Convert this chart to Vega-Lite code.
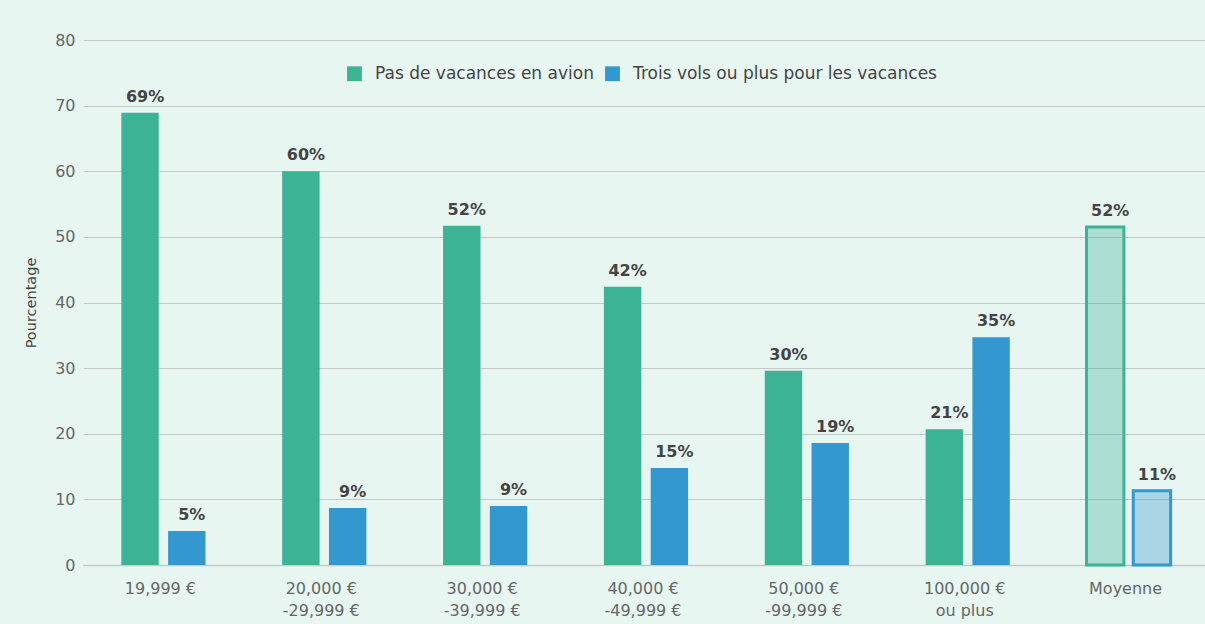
{
  "$schema": "https://vega.github.io/schema/vega-lite/v6.json",
  "autosize": "none",
  "width": 1126,
  "height": 525,
  "padding": {"left": 83, "top": 40, "right": 0, "bottom": 59},
  "background": "#e8f6f2",
  "config": {
    "font": "DejaVu Sans",
    "view": {"stroke": null},
    "axis": {"labelFont": "DejaVu Sans", "titleFont": "DejaVu Sans"},
    "legend": {"labelFont": "DejaVu Sans"}
  },
  "data": {
    "values": [
      {"cat": "19,999 €", "series": "Pas de vacances en avion", "value": 68.9, "label": "69%"},
      {"cat": "19,999 €", "series": "Trois vols ou plus pour les vacances", "value": 5.2, "label": "5%"},
      {"cat": "20,000 € -29,999 €", "series": "Pas de vacances en avion", "value": 60.0, "label": "60%"},
      {"cat": "20,000 € -29,999 €", "series": "Trois vols ou plus pour les vacances", "value": 8.7, "label": "9%"},
      {"cat": "30,000 € -39,999 €", "series": "Pas de vacances en avion", "value": 51.7, "label": "52%"},
      {"cat": "30,000 € -39,999 €", "series": "Trois vols ou plus pour les vacances", "value": 9.0, "label": "9%"},
      {"cat": "40,000 € -49,999 €", "series": "Pas de vacances en avion", "value": 42.4, "label": "42%"},
      {"cat": "40,000 € -49,999 €", "series": "Trois vols ou plus pour les vacances", "value": 14.8, "label": "15%"},
      {"cat": "50,000 € -99,999 €", "series": "Pas de vacances en avion", "value": 29.6, "label": "30%"},
      {"cat": "50,000 € -99,999 €", "series": "Trois vols ou plus pour les vacances", "value": 18.6, "label": "19%"},
      {"cat": "100,000 € ou plus", "series": "Pas de vacances en avion", "value": 20.7, "label": "21%"},
      {"cat": "100,000 € ou plus", "series": "Trois vols ou plus pour les vacances", "value": 34.7, "label": "35%"},
      {"cat": "Moyenne", "series": "Pas de vacances en avion", "value": 51.5, "label": "52%"},
      {"cat": "Moyenne", "series": "Trois vols ou plus pour les vacances", "value": 11.3, "label": "11%"}
    ]
  },
  "encoding": {
    "x": {
      "field": "cat",
      "type": "nominal",
      "sort": null,
      "scale": {"paddingInner": 0, "paddingOuter": 0},
      "axis": {
        "title": null,
        "labelAngle": 0,
        "labelExpr": "split(datum.label, ' ', 2)[0] == '19,999' ? datum.label : (indexof(datum.label, 'ou plus') > 0 ? ['100,000 €', 'ou plus'] : (datum.label == 'Moyenne' ? datum.label : [slice(datum.label, 0, indexof(datum.label, ' -')), slice(datum.label, indexof(datum.label, ' -') + 1)]))",
        "labelFontSize": 16,
        "labelColor": "#666666",
        "labelPadding": 15,
        "labelLineHeight": 22,
        "labelBaseline": "top",
        "labelOffset": -3,
        "ticks": false,
        "domainColor": "#c8c8c8",
        "domainWidth": 1.5,
        "grid": false
      }
    },
    "xOffset": {
      "field": "series",
      "type": "nominal",
      "scale": {"paddingInner": 0.2, "paddingOuter": 0.82}
    },
    "y": {
      "field": "value",
      "type": "quantitative",
      "scale": {"domain": [0, 80]},
      "axis": {
        "title": "Pourcentage",
        "titleFontSize": 14.5,
        "titleFontWeight": "normal",
        "titleColor": "#444444",
        "titlePadding": 16,
        "values": [0, 10, 20, 30, 40, 50, 60, 70, 80],
        "labelOverlap": false,
        "labelFontSize": 16,
        "labelColor": "#666666",
        "labelPadding": 8,
        "ticks": false,
        "domain": false,
        "gridColor": "#c8c8c8",
        "gridWidth": 1.2
      }
    }
  },
  "layer": [
    {
      "mark": {"type": "bar"},
      "encoding": {
        "color": {
          "field": "series",
          "type": "nominal",
          "scale": {"range": ["#3bb394", "#3398cf"]},
          "legend": {
            "title": null,
            "orient": "none",
            "direction": "horizontal",
            "legendX": 263,
            "legendY": 25,
            "symbolType": "square",
            "symbolSize": 220,
            "symbolStrokeWidth": 0,
            "symbolOpacity": 1,
            "labelFontSize": 17,
            "labelColor": "#444444",
            "labelOffset": 12,
            "columnPadding": 10,
            "labelLimit": 400
          }
        },
        "fillOpacity": {"condition": {"test": "datum.cat == 'Moyenne'", "value": 0.35}, "value": 1},
        "stroke": {
          "field": "series",
          "type": "nominal",
          "scale": {"range": ["#3bb394", "#3398cf"]},
          "legend": null
        },
        "strokeWidth": {"condition": {"test": "datum.cat == 'Moyenne'", "value": 3}, "value": 0}
      }
    },
    {
      "mark": {"type": "text", "dy": -8, "dx": 5, "fontSize": 16, "fontWeight": "bold", "color": "#444444", "baseline": "bottom"},
      "encoding": {
        "text": {"field": "label"}
      }
    }
  ]
}
